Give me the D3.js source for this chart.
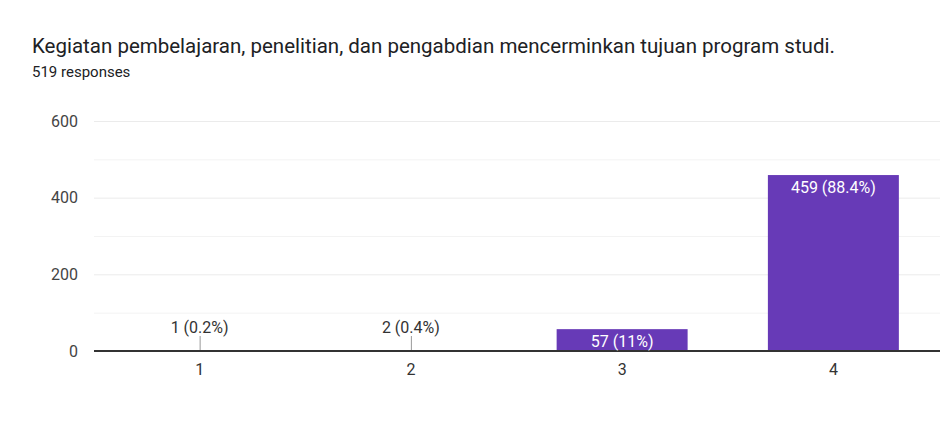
<!DOCTYPE html>
<html><head><meta charset="utf-8">
<script src="https://cdn.jsdelivr.net/npm/d3@7"></script>
<style>
body{margin:0;background:#fff;font-family:Roboto,"Open Sans",Arial,sans-serif;}
</style></head>
<body>
<svg id="c" width="940" height="447"></svg>
<script>
const categories = ["1","2","3","4"];
const counts = [1, 2, 57, 459];
const labels = ["1 (0.2%)","2 (0.4%)","57 (11%)","459 (88.4%)"];
const yTicks = [0,200,400,600];
const yGrid = [100,200,300,400,500,600];
const title = "Kegiatan pembelajaran, penelitian, dan pengabdian mencerminkan tujuan program studi.";
const subtitle = "519 responses";

(function(){
const svg = d3.select("#c");
svg.append("text").attr("x",32).attr("y",53).attr("font-size",20.5).attr("fill","#202124").text(title);
svg.append("text").attr("x",32).attr("y",77).attr("font-size",15).attr("fill","#202124").text(subtitle);

const pLeft=94, pRight=939, pTop=121, pBottom=351;
const x = d3.scaleBand().domain(categories).range([pLeft,pRight]).paddingInner(0.38).paddingOuter(0.19);
const y = d3.scaleLinear().domain([0,600]).range([pBottom,pTop]);

svg.append("g").selectAll("line").data(yGrid).join("line")
  .attr("x1",pLeft).attr("x2",940).attr("y1",d=>y(d)+0.5).attr("y2",d=>y(d)+0.5)
  .attr("stroke",d=>d%200===0?"#ebebeb":"#f3f3f3").attr("stroke-width",1);

svg.append("g").selectAll("text").data(yTicks).join("text")
  .attr("x",78).attr("y",d=>y(d)).attr("dy","0.35em").attr("text-anchor","end")
  .attr("font-size",16).attr("fill","#444").text(d=>d);

svg.append("g").selectAll("rect").data(counts).join("rect")
  .attr("x",(d,i)=>x(categories[i])).attr("width",x.bandwidth())
  .attr("y",d=>y(d)).attr("height",d=>pBottom-y(d)).attr("fill","#673ab7");

svg.append("line").attr("x1",pLeft).attr("x2",940).attr("y1",pBottom).attr("y2",pBottom)
  .attr("stroke","#333").attr("stroke-width",2);

counts.forEach((d,i)=>{
  const cx = x(categories[i])+x.bandwidth()/2;
  const h = pBottom-y(d);
  if(h>18){
    svg.append("text").attr("x",cx).attr("y",y(d)+12).attr("dy","0.35em").attr("text-anchor","middle")
      .attr("font-size",16).attr("fill","#fff").text(labels[i]);
  } else {
    svg.append("line").attr("x1",cx+0.5).attr("x2",cx+0.5).attr("y1",pBottom-15).attr("y2",pBottom-1)
      .attr("stroke","#999").attr("stroke-width",1);
    svg.append("text").attr("x",cx).attr("y",pBottom-24).attr("dy","0.35em").attr("text-anchor","middle")
      .attr("font-size",16).attr("fill","#333").text(labels[i]);
  }
});

svg.append("g").selectAll("text").data(categories).join("text")
  .attr("x",d=>x(d)+x.bandwidth()/2).attr("y",369).attr("dy","0.35em").attr("text-anchor","middle")
  .attr("font-size",16).attr("fill","#333").text(d=>d);
})();
</script>
</body></html>
